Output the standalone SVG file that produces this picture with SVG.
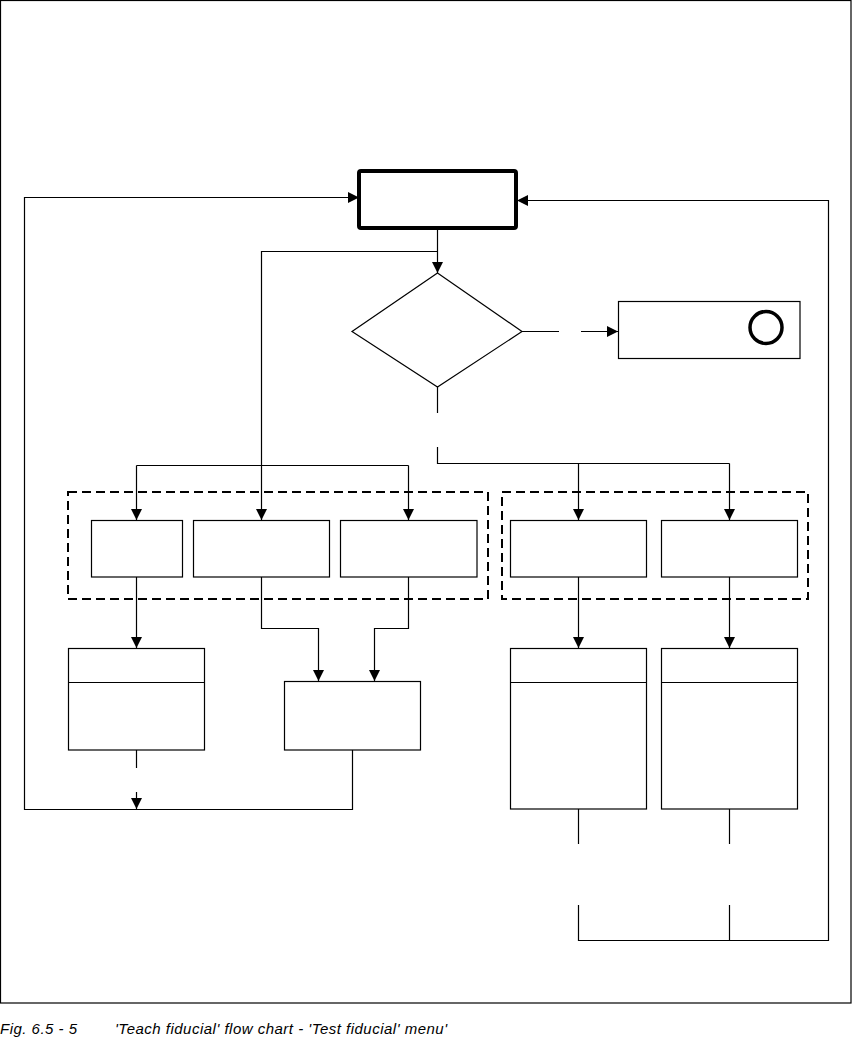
<svg xmlns="http://www.w3.org/2000/svg" width="852" height="1039" viewBox="0 0 852 1039">
<defs>
<style>
.box{fill:#fff;stroke:#000;stroke-width:1.2}
.ln{fill:none;stroke:#000;stroke-width:1.2}
.dash{fill:none;stroke:#000;stroke-width:2;stroke-dasharray:9 5}
.cap{font-family:"Liberation Sans",Arial,sans-serif;font-style:italic;font-size:15px;fill:#000}
</style>
<marker id="ah" viewBox="0 0 10 10" refX="10" refY="5" markerWidth="11" markerHeight="11" markerUnits="userSpaceOnUse" orient="auto">
<path d="M0,0 L10,5 L0,10 z" fill="#000"/>
</marker>
</defs>
<rect x="0.5" y="0.5" width="850.5" height="1002.5" fill="#fff" stroke="#000" stroke-width="1.2"/>

<g id="connectors">
<path class="ln" d="M437.5,229 V273" marker-end="url(#ah)"/>
<path class="ln" d="M437.5,251.5 H261.5 V465.5"/>
<path class="ln" d="M136.5,465.5 H408.5"/>
<path class="ln" d="M136.5,465.5 V520" marker-end="url(#ah)"/>
<path class="ln" d="M261.5,465.5 V520" marker-end="url(#ah)"/>
<path class="ln" d="M408.5,465.5 V520" marker-end="url(#ah)"/>
<path class="ln" d="M522,331.5 H559"/>
<path class="ln" d="M581,331.5 H618" marker-end="url(#ah)"/>
<path class="ln" d="M437.5,387 V413"/>
<path class="ln" d="M437.5,447 V463.5 H729.5"/>
<path class="ln" d="M578.5,463.5 V520" marker-end="url(#ah)"/>
<path class="ln" d="M729.5,463.5 V520" marker-end="url(#ah)"/>
<path class="ln" d="M136.5,577 V648" marker-end="url(#ah)"/>
<path class="ln" d="M261.5,577 V628.5 H318.5 V681" marker-end="url(#ah)"/>
<path class="ln" d="M408.5,577 V628.5 H374.5 V681" marker-end="url(#ah)"/>
<path class="ln" d="M578.5,577 V648" marker-end="url(#ah)"/>
<path class="ln" d="M729.5,577 V648" marker-end="url(#ah)"/>
<path class="ln" d="M136.5,750 V768"/>
<path class="ln" d="M136.5,792 V809" marker-end="url(#ah)"/>
<path class="ln" d="M352.5,750 V809.5 H24.5 V197.5 H359" marker-end="url(#ah)"/>
<path class="ln" d="M578.5,809 V844"/>
<path class="ln" d="M729.5,809 V844"/>
<path class="ln" d="M578.5,905 V940.5 H828.5 V200.5 H517" marker-end="url(#ah)"/>
<path class="ln" d="M729.5,905 V940.5"/>
</g>

<g id="start">
<rect x="359" y="171" width="157" height="57" rx="2" fill="#fff" stroke="#000" stroke-width="4"/>
</g>
<g id="decision">
<polygon class="box" points="437.5,273 522,331.5 437.5,387 352,331.5"/>
</g>
<g id="stop">
<rect class="box" x="618.5" y="301.5" width="181.5" height="57"/>
<circle cx="766" cy="327.5" r="16" fill="none" stroke="#000" stroke-width="3.5"/>
</g>
<g id="group-left">
<rect class="dash" x="68" y="492" width="420" height="107"/>
</g>
<g id="group-right">
<rect class="dash" x="502" y="492" width="306" height="107"/>
</g>
<g id="b1"><rect class="box" x="91.5" y="520.5" width="91" height="56.5"/></g>
<g id="b2"><rect class="box" x="193.5" y="520.5" width="136" height="56.5"/></g>
<g id="b3"><rect class="box" x="340.5" y="520.5" width="136.5" height="56.5"/></g>
<g id="b4"><rect class="box" x="510.5" y="520.5" width="136" height="56.5"/></g>
<g id="b5"><rect class="box" x="661.5" y="520.5" width="136" height="56.5"/></g>
<g id="split1">
<rect class="box" x="68.5" y="648.5" width="136" height="101.5"/>
<line class="ln" x1="68.5" y1="682.5" x2="204.5" y2="682.5"/>
</g>
<g id="merge">
<rect class="box" x="284.5" y="681.5" width="136" height="68.5"/>
</g>
<g id="split2">
<rect class="box" x="510.5" y="648.5" width="136" height="160.5"/>
<line class="ln" x1="510.5" y1="682.5" x2="646.5" y2="682.5"/>
</g>
<g id="split3">
<rect class="box" x="661.5" y="648.5" width="136" height="160.5"/>
<line class="ln" x1="661.5" y1="682.5" x2="797.5" y2="682.5"/>
</g>
<g id="caption">
<text class="cap" x="0" y="1034" textLength="77" lengthAdjust="spacing">Fig. 6.5 - 5</text>
<text class="cap" x="115" y="1034" textLength="332" lengthAdjust="spacing">'Teach fiducial' flow chart - 'Test fiducial' menu'</text>
</g>
</svg>
